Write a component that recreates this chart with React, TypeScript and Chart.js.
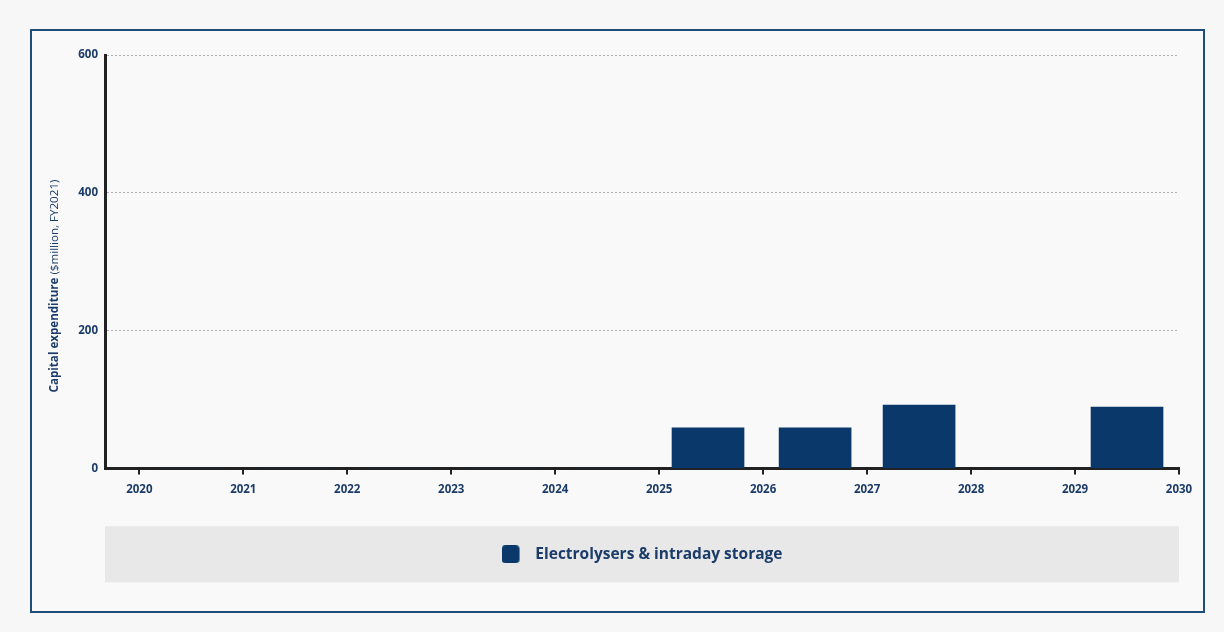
import React, { useEffect, useRef } from "react";
import { Chart, registerables } from "chart.js";

Chart.register(...registerables);

// ---- data ----
const periodLabels = [2020, 2021, 2022, 2023, 2024, 2025, 2026, 2027, 2028, 2029];
// x position (in years) of each bar's centre
const barCentres = [2020.5, 2021.5, 2022.5, 2023.5, 2024.5, 2025.47, 2026.5, 2027.5, 2028.5, 2029.5];
const capexValues = [0, 0, 0, 0, 0, 59, 59, 92, 0, 89];
const xTickYears = [2020, 2021, 2022, 2023, 2024, 2025, 2026, 2027, 2028, 2029, 2030];
const yTickValues = [0, 200, 400, 600];
const seriesLabel = "Electrolysers & intraday storage";
const yTitleBold = "Capital expenditure";
const yTitleRest = " ($million, FY2021)";

const FONT = "'Open Sans', 'Noto Sans', sans-serif";
const TEXT_COLOR = "#1b3c69";
const BAR_COLOR = "#0a386a";
const AXIS_COLOR = "#222222";

function makeMarker(): HTMLCanvasElement {
  const c = document.createElement("canvas");
  c.width = 26;
  c.height = 18;
  const g = c.getContext("2d")!;
  const r = 4, w = 18, h = 18;
  g.fillStyle = BAR_COLOR;
  g.beginPath();
  g.moveTo(r, 0);
  g.lineTo(w - r, 0);
  g.arcTo(w, 0, w, r, r);
  g.lineTo(w, h - r);
  g.arcTo(w, h, w - r, h, r);
  g.lineTo(r, h);
  g.arcTo(0, h, 0, h - r, r);
  g.lineTo(0, r);
  g.arcTo(0, 0, r, 0, r);
  g.closePath();
  g.fill();
  return c;
}

const LEGEND_FONT_SIZE = 15.5;

const decorPlugin = {
  id: "decor",
  beforeDraw(chart: any) {
    const { ctx, chartArea, legend } = chart;
    if (legend && legend.options.display) {
      const pad = legend.options.labels.padding;
      const cy = legend.top + pad + LEGEND_FONT_SIZE / 2;
      ctx.save();
      ctx.fillStyle = "#e8e8e8";
      ctx.fillRect(chartArea.left, cy - 28, chartArea.right - chartArea.left, 56);
      ctx.restore();
    }
  },
  afterDraw(chart: any) {
    const { ctx } = chart;
    ctx.save();
    ctx.translate(55, 286);
    ctx.rotate(-Math.PI / 2);
    ctx.textBaseline = "middle";
    ctx.fillStyle = TEXT_COLOR;
    const boldFont = `bold 11.6px ${FONT}`;
    const normFont = `11.6px ${FONT}`;
    ctx.font = boldFont;
    const wb = ctx.measureText(yTitleBold).width;
    ctx.font = normFont;
    const wn = ctx.measureText(yTitleRest).width;
    const start = -(wb + wn) / 2;
    ctx.textAlign = "left";
    ctx.font = boldFont;
    ctx.fillText(yTitleBold, start, 0);
    ctx.font = normFont;
    ctx.fillText(yTitleRest, start + wb, 0);
    ctx.restore();
  },
};

export default function App() {
  const canvasRef = useRef<HTMLCanvasElement | null>(null);

  useEffect(() => {
    if (!canvasRef.current) return;
    const marker = makeMarker();
    const chart = new Chart(canvasRef.current, {
      type: "bar",
      data: {
        datasets: [
          {
            label: seriesLabel,
            data: periodLabels.map((_, i) => ({ x: barCentres[i], y: capexValues[i] })),
            backgroundColor: BAR_COLOR,
            borderColor: BAR_COLOR,
            borderWidth: 0,
            barThickness: 72,
          } as any,
        ],
      },
      options: {
        animation: false,
        responsive: true,
        maintainAspectRatio: false,
        layout: { padding: { left: 0, right: 45, top: 55, bottom: 60 } },
        plugins: {
          tooltip: { enabled: false },
          legend: {
            display: true,
            position: "bottom",
            fullSize: false,
            labels: {
              usePointStyle: true,
              pointStyle: marker as any,
              pointStyleWidth: 26,
              padding: 10,
              color: TEXT_COLOR,
              font: { family: FONT, size: LEGEND_FONT_SIZE, weight: "bold" },
            },
          },
        },
        scales: {
          x: {
            type: "linear",
            min: 2019.67,
            max: 2030,
            offset: false,
            afterBuildTicks: (s: any) => {
              s.ticks = xTickYears.map((v) => ({ value: v }));
            },
            afterFit: (s: any) => {
              s.height = 68;
            },
            grid: {
              offset: false,
              drawOnChartArea: false,
              drawTicks: true,
              tickLength: 6,
              color: AXIS_COLOR,
              lineWidth: 2,
            },
            border: { display: true, color: AXIS_COLOR, width: 3 },
            ticks: {
              padding: 8,
              color: TEXT_COLOR,
              autoSkip: false,
              maxRotation: 0,
              font: { family: FONT, size: 11.5, weight: "bold" },
              callback: (v: any) => String(v),
            },
          },
          y: {
            type: "linear",
            min: 0,
            max: 600,
            afterBuildTicks: (s: any) => {
              s.ticks = yTickValues.map((v) => ({ value: v }));
            },
            afterFit: (s: any) => {
              s.width = 105;
            },
            grid: {
              drawTicks: false,
              lineWidth: 1,
              color: (c: any) => (c.tick && c.tick.value === 0 ? "rgba(0,0,0,0)" : "#b0b0b0"),
            },
            border: { display: true, color: AXIS_COLOR, width: 3, dash: [2, 2] },
            ticks: {
              padding: 7,
              color: TEXT_COLOR,
              font: { family: FONT, size: 11.5, weight: "bold" },
              callback: (v: any) => String(v),
            },
          },
        },
      },
      plugins: [decorPlugin],
    });
    return () => chart.destroy();
  }, []);

  return (
    <div style={{ position: "fixed", left: 0, top: 0, width: 1224, height: 632, background: "#f7f7f7" }}>
      <div
        style={{
          position: "absolute",
          left: 30,
          top: 29,
          width: 1175,
          height: 584,
          border: "2px solid #1f4d7a",
          boxSizing: "border-box",
          background: "#f9f9f9",
        }}
      />
      <div style={{ position: "absolute", left: 0, top: 0, width: 1224, height: 632 }}>
        <canvas ref={canvasRef} />
      </div>
    </div>
  );
}
